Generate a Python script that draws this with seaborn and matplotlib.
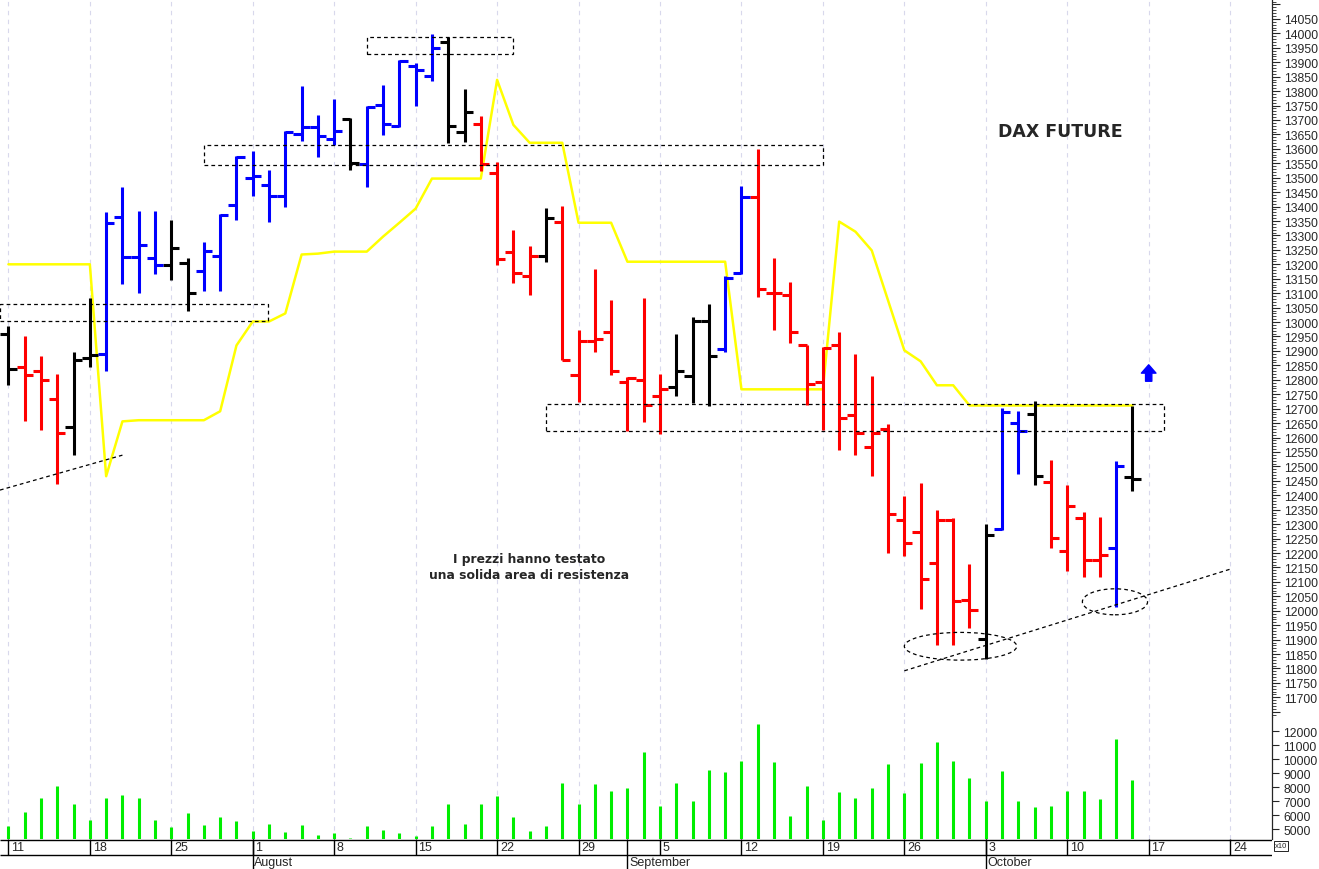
import pandas as pd
import seaborn as sns
import matplotlib.pyplot as plt
from matplotlib.patches import Ellipse, Rectangle
from matplotlib.ticker import MultipleLocator, FuncFormatter

sns.set_style("white")
plt.rcParams["font.family"] = ["Liberation Sans", "DejaVu Sans"]

# trading days on the axis: bars run to 14 Oct, the rest is empty space
days = pd.bdate_range("2022-07-11", "2022-10-28")

opens = [12957, 12846, 12832, 12732, 12635, 12875, 12888, 13365, 13227, 13223,
         13199, 13203, 13178, 13230, 13407, 13500, 13476, 13438, 13652, 13676,
         13635, 13705, 13548, 13753, 13680, 13887, 13853, 13970, 13659, 13687,
         13517, 13244, 13161, 13230, 13348, 12815, 12936, 12964, 12791, 12798,
         12743, 12774, 12812, 13005, 12908, 13171, 13434, 13102, 13092, 12919,
         12791, 12922, 12677, 12566, 12628, 12314, 12272, 12165, 12314, 12037,
         11902, 12282, 12649, 12680, 12445, 12206, 12320, 12175, 12217, 12462]
highs = [12985, 12953, 12881, 12819, 12895, 13085, 13382, 13469, 13386, 13386,
         13355, 13223, 13279, 13375, 13576, 13593, 13528, 13663, 13818, 13718,
         13773, 13708, 13749, 13822, 13908, 13898, 13998, 13988, 13808, 13714,
         13555, 13320, 13265, 13396, 13403, 12971, 13185, 13075, 12808, 13085,
         12819, 12957, 13019, 13064, 13161, 13472, 13600, 13223, 13140, 12919,
         12912, 12967, 12888, 12812, 12646, 12397, 12442, 12348, 12320, 12161,
         12300, 12701, 12691, 12725, 12521, 12435, 12341, 12324, 12518, 12708]
lows = [12781, 12656, 12625, 12438, 12538, 12846, 12829, 13133, 13102, 13165,
        13144, 13040, 13106, 13106, 13355, 13438, 13348, 13400, 13628, 13573,
        13614, 13528, 13469, 13649, 13676, 13749, 13836, 13621, 13625, 13524,
        13196, 13137, 13095, 13209, 12867, 12722, 12898, 12815, 12621, 12653,
        12611, 12743, 12718, 12708, 12898, 13165, 13088, 12971, 12926, 12711,
        12625, 12556, 12538, 12466, 12199, 12189, 12006, 11881, 11881, 11940,
        11833, 12279, 12473, 12435, 12217, 12137, 12116, 12116, 12013, 12414]
closes = [12839, 12815, 12798, 12614, 12867, 12885, 13344, 13227, 13268, 13199,
          13258, 13102, 13247, 13370, 13570, 13505, 13438, 13660, 13676, 13645,
          13663, 13552, 13745, 13687, 13905, 13874, 13950, 13680, 13728, 13548,
          13220, 13171, 13230, 13362, 12870, 12936, 12943, 12832, 12805, 12711,
          12767, 12829, 13005, 12881, 13151, 13434, 13113, 13100, 12964, 12787,
          12909, 12666, 12614, 12614, 12334, 12234, 12109, 12314, 12033, 12002,
          12262, 12687, 12621, 12466, 12251, 12362, 12175, 12192, 12500, 12458]
# k = neutral, r = down signal, b = up signal
bar_signal = "krrrkkbbbbkkbbbbbbbbbkbbbbbkkrrrrkrrrrrrrkkkbbrrrrrrrrrrrrrrkbbkrrrrbk"

stop_line = [13200, 13200, 13200, 13200, 13200, 13200, 12466, 12656, 12660, 12660,
             12660, 12660, 12660, 12691, 12919, 13002, 13002, 13030, 13234, 13237,
             13244, 13244, 13244, 13296, 13344, 13393, 13497, 13497, 13497, 13497,
             13839, 13683, 13621, 13621, 13621, 13344, 13344, 13344, 13209, 13209,
             13209, 13209, 13209, 13209, 13209, 12767, 12767, 12767, 12767, 12767,
             12767, 13348, 13313, 13248, 13075, 12902, 12864, 12781, 12781, 12711,
             12711, 12711, 12711, 12711, 12711, 12711, 12711, 12711, 12711, 12711]

volume = [5240, 6240, 7190, 8050, 6760, 5640, 7190, 7430, 7190, 5640,
          5170, 6140, 5290, 5860, 5570, 4830, 5360, 4760, 5290, 4570,
          4710, 4380, 5240, 4930, 4690, 4520, 5210, 6760, 5360, 6760,
          7360, 5860, 4880, 5240, 8290, 6760, 8210, 7740, 7930, 10520,
          6620, 8290, 6980, 9240, 9100, 9860, 12500, 9760, 5950, 8050,
          5670, 7670, 7190, 7930, 9620, 7570, 9710, 11190, 9860, 8620,
          7000, 9120, 7000, 6550, 6620, 7710, 7710, 7170, 11430, 8480]

# drawn annotations (bar index / price)
zones = [(22.0, 31.0, 13929, 13987), (12.0, 50.0, 13545, 13614),
         (-0.52, 15.94, 13002, 13061), (33.0, 70.94, 12623, 12716)]
trendlines = [((-0.52, 7.0), (12418, 12539)), ((55.0, 75.0), (11792, 12144))]
ellipses = [(58.45, 11877, 6.9, 96), (67.93, 12031, 4.0, 90)]
arrow_at = (70, 12795, 12852)

palette = {"k": "#000000", "r": "#ff0000", "b": "#0000ff"}
grid_kw = dict(color="#d8d8ec", lw=0.8, ls=(0, (4, 4)))
dash = (0, (3, 2.5))

idx = list(range(len(opens)))
df = pd.DataFrame({"i": idx, "open": opens, "high": highs, "low": lows,
                   "close": closes, "stop": stop_line, "vol": volume})
df["color"] = [palette[c] for c in bar_signal]

mondays = [i for i, d in enumerate(days) if d.weekday() == 0]
month_starts = [i for i in range(1, len(days)) if days[i].month != days[i - 1].month]

W, H = 1319, 870
fig = plt.figure(figsize=(W / 100, H / 100), dpi=100)
xl = (-0.516, 77.57)
axw = 1272 / W
ax = fig.add_axes([0, 1 - 718 / H, axw, 718 / H])
axv = fig.add_axes([0, 1 - 840 / H, axw, 122 / H])
axd = fig.add_axes([0, 0, axw, 30 / H])

# ---- price panel
ax.vlines(df["i"], df["low"], df["high"], colors=df["color"], lw=2.2, zorder=3)
ax.hlines(df["open"], df["i"] - 0.5, df["i"], colors=df["color"], lw=2.2, zorder=3)
ax.hlines(df["close"], df["i"], df["i"] + 0.5, colors=df["color"], lw=2.2, zorder=3)
sns.lineplot(data=df, x="i", y="stop", ax=ax, color="#ffff00", lw=1.8, zorder=2)

for x0, x1, y0, y1 in zones:
    ax.add_patch(Rectangle((x0, y0), x1 - x0, y1 - y0, fill=False, ec="black",
                           lw=0.9, ls=dash, zorder=4))
for xs, ys in trendlines:
    ax.plot(xs, ys, color="black", lw=0.9, ls=dash, zorder=4)
for cx, cy, w, h in ellipses:
    ax.add_patch(Ellipse((cx, cy), w, h, fill=False, ec="black", lw=0.9,
                         ls=dash, zorder=4))
ax.annotate("", xy=(arrow_at[0], arrow_at[2]), xytext=(arrow_at[0], arrow_at[1]),
            arrowprops=dict(arrowstyle="simple,head_length=0.4,head_width=0.7,tail_width=0.3",
                            color="#0000ff", mutation_scale=15, shrinkA=0, shrinkB=0))

ax.text(64.55, 13663, "DAX FUTURE", ha="center", va="center", fontsize=12.5,
        fontweight="bold", family="DejaVu Sans")
ax.text(31.96, 12153, "I prezzi hanno testato\nuna solida area di resistenza",
        ha="center", va="center", fontsize=8.9, fontweight="bold",
        family="DejaVu Sans", linespacing=1.3)

ax.set_xlim(xl)
ax.set_ylim(11632, 14119)
ax.set_xticks(mondays)
ax.grid(axis="x", **grid_kw)
ax.grid(axis="y", visible=False)
ax.yaxis.tick_right()
ax.yaxis.set_major_locator(MultipleLocator(50))
ax.yaxis.set_minor_locator(MultipleLocator(10))
ax.yaxis.set_major_formatter(
    FuncFormatter(lambda v, p: f"{v:.0f}" if 11700 <= v <= 14050 else ""))
ax.tick_params(axis="x", length=0, labelbottom=False)
ax.tick_params(axis="y", which="major", length=6, width=0.8, labelsize=8.7, pad=3)
ax.tick_params(axis="y", which="minor", length=3, width=0.6)
for s in ["top", "left", "bottom"]:
    ax.spines[s].set_visible(False)
ax.spines["right"].set_linewidth(0.9)
ax.set_xlabel("")
ax.set_ylabel("")

# ---- volume panel
axv.vlines(df["i"], 4286, df["vol"], color="#00ee00", lw=2.2)
axv.set_xlim(xl)
axv.set_ylim(4286, 13000)
axv.set_xticks(mondays)
axv.grid(axis="x", **grid_kw)
axv.yaxis.tick_right()
axv.set_yticks(range(5000, 12001, 1000))
axv.tick_params(axis="x", length=0, labelbottom=False)
axv.tick_params(axis="y", length=5, width=0.8, labelsize=8.7, pad=3)
for s in ["top", "left", "bottom"]:
    axv.spines[s].set_visible(False)
axv.spines["right"].set_linewidth(0.9)
fig.text(1275 / W, 1 - 847 / H, "x10", fontsize=5.5, va="center", ha="left",
         bbox=dict(boxstyle="square,pad=0.15", fc="white", ec="black", lw=0.6))

# ---- date strip
axd.set_xlim(xl)
axd.set_ylim(0, 30)
axd.axis("off")
axd.hlines([29.5, 14], xl[0], xl[1], color="black", lw=1)
axd.vlines(mondays, 14, 30, color="black", lw=1)
axd.vlines(month_starts, 0, 30, color="black", lw=1)
for i in mondays:
    axd.text(i + 0.17, 21.5, str(days[i].day), fontsize=9, va="center", ha="left")
for i in month_starts:
    axd.text(i + 0.1, 6.5, days[i].strftime("%B"), fontsize=9, va="center", ha="left")

fig.savefig("out.png", dpi=100)
